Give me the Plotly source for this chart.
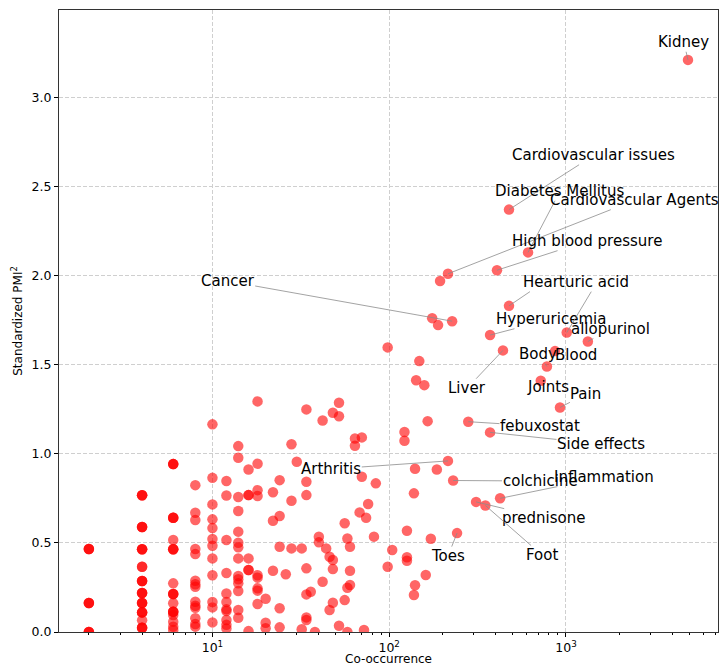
import math
import plotly.graph_objects as go

# ---- unlabeled points: co-occurrence column -> standardized PMI^2 values ----
col_2 = [0.466, 0.466, 0.466, 0.163, 0.163, 0.163, 0.0, 0.0, 0.0]
col_4 = [0.767, 0.767, 0.767, 0.589, 0.589, 0.589, 0.464, 0.464, 0.464,
         0.366, 0.366, 0.286, 0.286, 0.286, 0.219, 0.219, 0.219,
         0.163, 0.163, 0.163, 0.110, 0.110, 0.110, 0.066, 0.024, 0.024, 0.024]
col_6 = [0.942, 0.942, 0.942, 0.641, 0.641, 0.641, 0.516, 0.464, 0.464, 0.464,
         0.273, 0.213, 0.213, 0.213, 0.161, 0.114, 0.114, 0.114, 0.095, 0.058,
         0.030, 0.011]
col_8 = [0.824, 0.669, 0.628, 0.466, 0.437, 0.288, 0.268, 0.254, 0.170, 0.147,
         0.136, 0.077, 0.045, 0.030]
col_10 = [1.165, 0.865, 0.716, 0.632, 0.583, 0.522, 0.484, 0.413, 0.318, 0.168,
          0.138, 0.054]
col_12 = [0.847, 0.766, 0.516, 0.331, 0.216, 0.168, 0.127, 0.118, 0.067, 0.040,
          0.020]
col_14 = [1.043, 0.978, 0.757, 0.679, 0.563, 0.501, 0.475, 0.413, 0.314, 0.296,
          0.273, 0.230, 0.123, 0.080]
col_16 = [0.912, 0.768, 0.768, 0.413, 0.348, 0.348, 0.005]
col_18 = [1.294, 0.944, 0.796, 0.763, 0.318, 0.305, 0.245, 0.232, 0.157]
col_20 = [0.187, 0.052, 0.021]
col_22 = [0.784, 0.624, 0.344]
col_24 = [0.852, 0.651, 0.478, 0.133, 0.026]
col_26 = [0.324]
col_28 = [1.053, 0.736, 0.469]
col_30 = [0.955]
col_32 = [0.469, 0.015]
col_34 = [1.249, 0.843, 0.768, 0.357, 0.211, 0.082, 0.067]
col_36 = [0.226]
col_38 = [0.0]
col_40 = [0.535, 0.503]
col_42 = [1.187, 0.282]
col_44 = [0.469]
col_46 = [0.422, 0.123]
col_48 = [1.230, 0.404, 0.353, 0.164]
col_52 = [1.286, 1.211, 0.035]
col_56 = [0.610, 0.179]
col_58 = [0.525, 0.248, 0.0]
col_60 = [0.478, 0.344, 0.264]
col_64 = [1.086, 1.045]
col_68 = [0.671]
col_70 = [1.092, 0.871]
col_72 = [0.011]
col_74 = [0.641]
col_76 = [0.718]
col_82 = [0.535]
col_84 = [0.834]
col_98 = [1.597, 0.366]
col_104 = [0.460]
col_122 = [1.122, 1.073]
col_126 = [0.568, 0.419, 0.400]
col_138 = [0.778, 0.208]
col_140 = [0.916, 0.262]
col_142 = [1.413]
col_148 = [1.520]
col_158 = [1.385]
col_161 = [0.320]
col_165 = [1.183]
col_172 = [0.523]
col_175 = [1.761]
col_186 = [0.912]
col_189 = [1.722]
col_194 = [1.969]

columns = {
    2: col_2, 4: col_4, 6: col_6, 8: col_8, 10: col_10, 12: col_12, 14: col_14,
    16: col_16, 18: col_18, 20: col_20, 22: col_22, 24: col_24, 26: col_26,
    28: col_28, 30: col_30, 32: col_32, 34: col_34, 36: col_36, 38: col_38,
    40: col_40, 42: col_42, 44: col_44, 46: col_46, 48: col_48, 52: col_52,
    56: col_56, 58: col_58, 60: col_60, 64: col_64, 68: col_68, 70: col_70,
    72: col_72, 74: col_74, 76: col_76, 82: col_82, 84: col_84, 98: col_98,
    104: col_104, 122: col_122, 126: col_126, 138: col_138, 140: col_140,
    142: col_142, 148: col_148, 158: col_158, 161: col_161, 165: col_165,
    172: col_172, 175: col_175, 186: col_186, 189: col_189, 194: col_194,
}

# ---- labeled terms ----
terms = ["Kidney", "Cardiovascular issues", "Diabetes Mellitus", "Cardiovascular Agents",
         "High blood pressure", "Heart", "Cancer", "Hyperuricemia", "uric acid",
         "allopurinol", "Liver", "Body", "Blood", "Joints", "Pain", "febuxostat",
         "Side effects", "Arthritis", "colchicine", "Inflammation", "prednisone",
         "Foot", "Toes"]
term_cooc = [4900, 476, 610, 215, 407, 476, 227, 372, 1010, 1330, 440, 780, 867,
             720, 925, 280, 372, 215, 230, 424, 310, 350, 242]
term_pmi = [3.21, 2.37, 2.13, 2.01, 2.03, 1.83, 1.744, 1.666, 1.68, 1.63, 1.58,
            1.49, 1.576, 1.41, 1.26, 1.18, 1.12, 0.96, 0.85, 0.75, 0.73, 0.71, 0.555]

# label text placement (co-occurrence, PMI) for each term
label_place = {
    "Kidney": (4645, 3.309),
    "Cardiovascular issues": (1439, 2.675),
    "Diabetes Mellitus": (925, 2.473),
    "Cardiovascular Agents": (2455, 2.423),
    "High blood pressure": (1315, 2.193),
    "Heart": (751, 1.963),
    "Cancer": (12.2, 1.969),
    "Hyperuricemia": (822, 1.755),
    "uric acid": (1497, 1.963),
    "allopurinol": (1795, 1.70),
    "Liver": (276, 1.368),
    "Body": (695, 1.559),
    "Blood": (1138, 1.553),
    "Joints": (791, 1.374),
    "Pain": (1297, 1.335),
    "febuxostat": (713, 1.155),
    "Side effects": (1578, 1.054),
    "Arthritis": (47, 0.914),
    "colchicine": (713, 0.847),
    "Inflammation": (1640, 0.869),
    "prednisone": (751, 0.639),
    "Foot": (731, 0.432),
    "Toes": (215, 0.426),
}

xs, ys = [], []
for cx, vals in columns.items():
    for v in vals:
        xs.append(cx)
        ys.append(v)
xs += term_cooc
ys += term_pmi

fig = go.Figure()
fig.add_trace(go.Scatter(
    x=xs, y=ys, mode="markers",
    marker=dict(size=10.5, color="red", opacity=0.6, line=dict(width=0)),
    hoverinfo="skip", showlegend=False,
))

font_family = "DejaVu Sans, sans-serif"
annotations = []
for t, px, py in zip(terms, term_cooc, term_pmi):
    tx, ty = label_place[t]
    annotations.append(dict(
        x=math.log10(px), y=py, xref="x", yref="y",
        ax=math.log10(tx), ay=ty, axref="x", ayref="y",
        text=t, showarrow=True, arrowhead=0, arrowwidth=0.8,
        arrowcolor="#8c8c8c", standoff=0, startstandoff=0,
        font=dict(family=font_family, size=15, color="black"),
        borderpad=0,
    ))

# x-axis title placed just below the tick labels
annotations.append(dict(
    text="Co-occurrence", xref="paper", yref="paper", x=0.5, y=-0.043,
    xanchor="center", yanchor="middle", showarrow=False,
    font=dict(family=font_family, size=12, color="black"),
))

grid_col = "#cfcfcf"
minor_vals = []
for dec in [1, 10, 100, 1000]:
    for m in range(2, 10):
        v = m * dec
        if 1.3 < v < 7300:
            minor_vals.append(v)

fig.update_layout(
    width=723, height=666,
    margin=dict(l=59, r=5, t=10, b=34),
    paper_bgcolor="white", plot_bgcolor="white",
    font=dict(family=font_family, size=12.5, color="black"),
    annotations=annotations,
    xaxis=dict(
        type="log", range=[0.132, 3.86], automargin=False,
        tickvals=[10, 100, 1000],
        ticktext=["10<sup>1</sup>", "10<sup>2</sup>", "10<sup>3</sup>"],
        ticks="outside", ticklen=4, tickwidth=1, tickcolor="black",
        showline=True, linecolor="#333333", linewidth=1, mirror=True,
        showgrid=True, gridcolor=grid_col, griddash="4px,2px", gridwidth=1,
        zeroline=False,
        minor=dict(tickvals=minor_vals, ticks="outside", ticklen=2,
                   tickcolor="black", showgrid=False),
    ),
    yaxis=dict(
        range=[0, 3.49], automargin=False,
        tickvals=[0, 0.5, 1.0, 1.5, 2.0, 2.5, 3.0],
        tickformat=".1f",
        ticks="outside", ticklen=4, tickwidth=1, tickcolor="black",
        showline=True, linecolor="#333333", linewidth=1, mirror=True,
        showgrid=True, gridcolor=grid_col, griddash="4px,2px", gridwidth=1,
        zeroline=False,
        title=dict(text="Standardized PMI<sup>2</sup>", font=dict(size=12), standoff=6),
    ),
)

fig.write_html(
    "out.html",
    config={"displayModeBar": False},
    post_script="document.body.style.margin='0';document.body.style.overflow='hidden';",
)
